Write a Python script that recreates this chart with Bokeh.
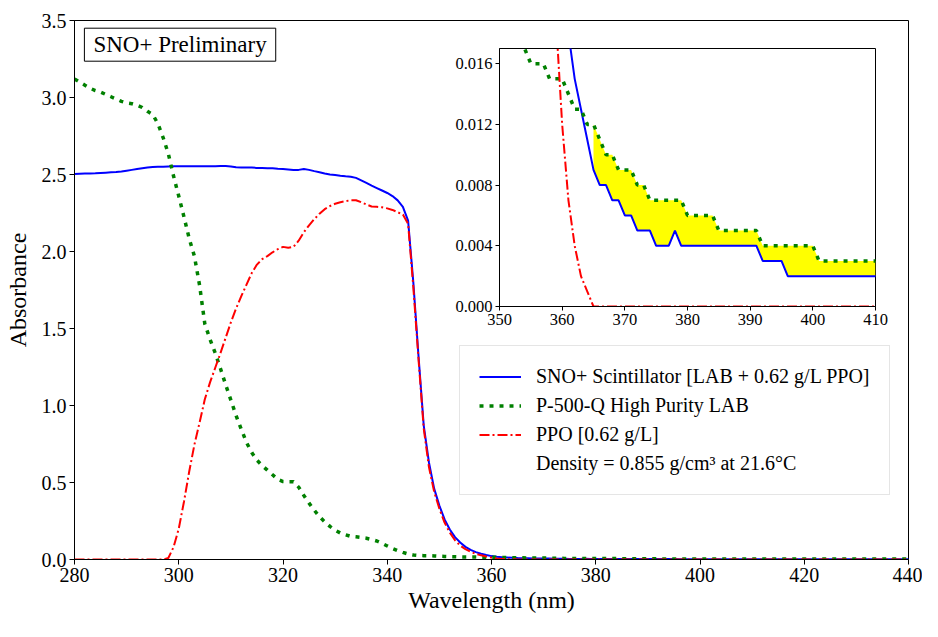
from bokeh.plotting import figure
from bokeh.models import (Range1d, Legend, LegendItem, Label, FixedTicker,
                          NumeralTickFormatter, ColumnDataSource)
from bokeh.layouts import column
from bokeh.embed import file_html
from bokeh.resources import INLINE

# ---------------- data (absorbance vs wavelength, 1 nm steps) ----------------
wavelength = list(range(280, 441))

scint = [2.504, 2.505, 2.506, 2.507, 2.508, 2.510, 2.512, 2.514, 2.516, 2.520,
         2.525, 2.530, 2.535, 2.540, 2.545, 2.548, 2.550, 2.551, 2.552, 2.553,
         2.553, 2.553, 2.554, 2.554, 2.553, 2.553, 2.554, 2.554, 2.555, 2.555,
         2.552, 2.547, 2.546, 2.546, 2.545, 2.543, 2.542, 2.541, 2.540, 2.537,
         2.535, 2.533, 2.530, 2.530, 2.535, 2.530, 2.522, 2.515, 2.507, 2.500,
         2.497, 2.492, 2.488, 2.485, 2.478, 2.462, 2.445, 2.428, 2.412, 2.396,
         2.380, 2.360, 2.332, 2.290, 2.200, 1.800, 1.320, 0.870, 0.630, 0.460,
         0.350, 0.260, 0.195, 0.145, 0.110, 0.082, 0.063, 0.048, 0.037, 0.029,
         0.022, 0.018, 0.015, 0.013, 0.011, 0.009, 0.008, 0.008, 0.007, 0.007,
         0.006, 0.006, 0.005, 0.005, 0.005, 0.004, 0.004, 0.004, 0.005, 0.004,
         0.004, 0.004, 0.004, 0.004, 0.004, 0.004, 0.004, 0.004, 0.004, 0.004,
         0.004, 0.004, 0.003, 0.003, 0.003, 0.003, 0.002, 0.002, 0.002, 0.002] + [0.002] * 41

lab = [3.120, 3.100, 3.080, 3.060, 3.045, 3.035, 3.020, 3.005, 2.990, 2.975,
       2.965, 2.960, 2.950, 2.935, 2.910, 2.890, 2.830, 2.740, 2.635, 2.490,
       2.360, 2.225, 2.085, 1.970, 1.780, 1.530, 1.430, 1.340, 1.240, 1.135,
       1.035, 0.935, 0.845, 0.760, 0.695, 0.645, 0.610, 0.580, 0.550, 0.520,
       0.506, 0.505, 0.505, 0.470, 0.416, 0.366, 0.320, 0.278, 0.245, 0.215,
       0.190, 0.172, 0.160, 0.150, 0.147, 0.143, 0.138, 0.130, 0.120, 0.105,
       0.088, 0.072, 0.058, 0.046, 0.036, 0.029, 0.026, 0.025, 0.025, 0.023,
       0.021, 0.020, 0.019, 0.018, 0.017, 0.016, 0.016, 0.016, 0.015, 0.015,
       0.015, 0.014, 0.013, 0.013, 0.012, 0.012, 0.011, 0.010, 0.010, 0.009,
       0.009, 0.009, 0.008, 0.008, 0.007, 0.007, 0.007, 0.007, 0.007, 0.007,
       0.006, 0.006, 0.006, 0.006, 0.006, 0.005, 0.005, 0.005, 0.005, 0.005,
       0.005, 0.005, 0.004, 0.004, 0.004, 0.004, 0.004, 0.004, 0.004, 0.004,
       0.004] + [0.003] * 40

ppo = [0.0] * 18 + [0.010, 0.080,
       0.200, 0.375, 0.570, 0.745, 0.890, 1.040, 1.150, 1.245, 1.340, 1.440,
       1.540, 1.630, 1.710, 1.785, 1.860, 1.915, 1.950, 1.970, 1.995, 2.015,
       2.030, 2.025, 2.030, 2.070, 2.125, 2.170, 2.210, 2.245, 2.275, 2.295,
       2.310, 2.320, 2.327, 2.333, 2.333, 2.320, 2.305, 2.292, 2.290, 2.287,
       2.280, 2.270, 2.255, 2.240, 2.180, 1.770, 1.300, 0.850, 0.600, 0.440,
       0.330, 0.240, 0.175, 0.125, 0.090, 0.067, 0.050, 0.037, 0.027, 0.019,
       0.012, 0.007, 0.004, 0.002, 0.001] + [0.0] * 76

x_ticks = [280, 300, 320, 340, 360, 380, 400, 420, 440]
y_ticks = [0.0, 0.5, 1.0, 1.5, 2.0, 2.5, 3.0, 3.5]
inset_x_ticks = [350, 360, 370, 380, 390, 400, 410]
inset_y_ticks = [0.0, 0.004, 0.008, 0.012, 0.016]
fill_start, fill_end = 365, 410

labels = ["SNO+ Scintillator [LAB + 0.62 g/L PPO]",
          "P-500-Q High Purity LAB",
          "PPO [0.62 g/L]",
          "Density = 0.855 g/cm\u00b3 at 21.6\u00b0C"]

SERIF = "Liberation Serif"
BLUE, GREEN, RED, YELLOW = "#0000ff", "#008000", "#ff0000", "#ffff00"

src = ColumnDataSource(dict(wl=wavelength, scint=scint, lab=lab, ppo=ppo))
idx = [i for i, w in enumerate(wavelength) if fill_start <= w <= fill_end]
fill_src = ColumnDataSource(dict(wl=[wavelength[i] for i in idx],
                                 lo=[scint[i] for i in idx],
                                 hi=[lab[i] for i in idx]))


def style_axes(fig, size, tick_len):
    for ax in (fig.xaxis[0], fig.yaxis[0]):
        ax.major_label_text_font = SERIF
        ax.major_label_text_font_size = size
        ax.major_label_text_color = "black"
        ax.major_tick_out = tick_len
        ax.major_tick_in = 0
        ax.minor_tick_out = 0
        ax.minor_tick_in = 0
        ax.axis_line_color = "black"
        ax.major_tick_line_color = "black"
        ax.major_label_standoff = 3
        ax.axis_label_text_font = SERIF
        ax.axis_label_text_font_size = "24px"
        ax.axis_label_text_font_style = "normal"
        ax.axis_label_text_color = "black"
    fig.xgrid.visible = False
    fig.ygrid.visible = False
    fig.outline_line_color = "black"
    fig.outline_line_alpha = 1.0


# ---------------- main figure ----------------
p = figure(width=922, height=621, x_range=Range1d(280, 440), y_range=Range1d(0, 3.5),
           output_backend="svg", toolbar_location=None,
           min_border_left=74, min_border_right=14, min_border_top=20, min_border_bottom=62)

r_b = p.line("wl", "scint", source=src, line_color=BLUE, line_width=2)
r_g = p.line("wl", "lab", source=src, line_color=GREEN, line_width=3.5, line_dash="4 6")
r_r = p.line("wl", "ppo", source=src, line_color=RED, line_width=2, line_dash="10 3 2 3")
r_d = p.line(x=[], y=[], line_alpha=0)

style_axes(p, "20px", 5)
p.xaxis.ticker = FixedTicker(ticks=x_ticks)
p.yaxis.ticker = FixedTicker(ticks=y_ticks)
p.yaxis.formatter = NumeralTickFormatter(format="0.0")
p.yaxis.axis_label = "Absorbance"
p.yaxis.axis_label_standoff = 8
p.xaxis.axis_label = "Wavelength (nm)"
p.xaxis.axis_label_standoff = 2

p.add_layout(Label(x=281.9, y=3.45, text="SNO+ Preliminary", text_align="left",
                   text_baseline="top", text_font=SERIF, text_font_size="23px",
                   text_color="black",
                   border_line_color="black", border_line_width=1,
                   background_fill_color="white", padding=(9, 4)))

legend = Legend(items=[LegendItem(label=labels[0], renderers=[r_b]),
                       LegendItem(label=labels[1], renderers=[r_g]),
                       LegendItem(label=labels[2], renderers=[r_r]),
                       LegendItem(label=labels[3], renderers=[r_d])],
                location=(385, 64), label_text_font=SERIF, label_text_font_size="20px",
                label_text_color="black",
                glyph_width=42, glyph_height=23, label_height=23, label_standoff=15,
                spacing=6, padding=19, margin=0,
                border_line_color="#cccccc", border_line_width=1,
                background_fill_color="white", background_fill_alpha=0.8)
p.add_layout(legend)

# ---------------- inset (column aligns left/right borders with the main plot) ----------------
ins = figure(width=464, height=294, x_range=Range1d(350, 410), y_range=Range1d(0, 0.017),
             output_backend="svg", toolbar_location=None,
             min_border_left=74, min_border_right=14, min_border_top=8, min_border_bottom=28,
             margin=(-581, 0, 0, 425))
ins.border_fill_color = None
ins.varea(x="wl", y1="lo", y2="hi", source=fill_src, fill_color=YELLOW)
ins.line("wl", "scint", source=src, line_color=BLUE, line_width=2)
ins.line("wl", "lab", source=src, line_color=GREEN, line_width=3.5, line_dash="4 6")
ins.line("wl", "ppo", source=src, line_color=RED, line_width=2, line_dash="10 3 2 3")
style_axes(ins, "16.5px", 4)
ins.xaxis.ticker = FixedTicker(ticks=inset_x_ticks)
ins.yaxis.ticker = FixedTicker(ticks=inset_y_ticks)
ins.yaxis.formatter = NumeralTickFormatter(format="0.000")

layout = column(p, ins)
open("out.html", "w").write(file_html(layout, INLINE))
